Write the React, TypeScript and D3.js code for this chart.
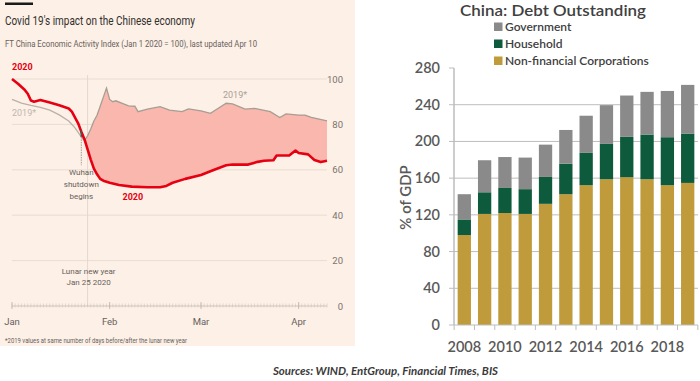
import React from "react";
import * as d3 from "d3";

// ---------- Left chart data (FT China Economic Activity Index) ----------
const redDays = [0, 2, 4, 5, 6, 7, 9, 12, 15, 18, 19, 21, 22, 23, 24, 25, 26, 27, 28, 29, 31, 34, 38, 43, 47, 49, 51, 55, 60, 64, 68, 70, 75, 78, 80, 83, 84, 88, 90, 91, 94, 96, 98, 100];
const redValues = [100, 97.8, 95.3, 93.5, 90.5, 90, 90.7, 89.6, 88.4, 87, 85.6, 80.5, 76.8, 73.5, 69, 64.5, 60.5, 58, 56, 55.2, 54.3, 53.3, 52.6, 52.3, 52.3, 52.9, 54.3, 56, 57.7, 59.9, 62, 62.3, 62.3, 63.5, 64, 64.2, 66.3, 66.3, 68.5, 67.4, 66.8, 64.3, 63.4, 64];
const greyDays = [0, 3, 6, 9, 12, 15, 18, 20, 22, 23, 24, 25, 26, 27, 28, 29, 30, 31, 32, 33, 35, 37, 39, 40, 43, 47, 50, 54, 56, 60, 63, 65, 68, 70, 74, 77, 82, 85, 87, 91, 93, 95, 100];
const greyValues = [91, 89.4, 88.4, 87.5, 86.3, 84.2, 81.5, 78.5, 74.5, 72.8, 75, 78, 81.5, 84, 88, 92, 96, 91, 90, 90.4, 89.3, 88.2, 88, 85.6, 86.7, 87.8, 86.3, 85.6, 86.8, 86, 84.9, 86.7, 89.3, 89, 86.7, 87.1, 85.6, 83, 84.6, 84.1, 84.1, 83.1, 81.6];
const shadeStartDay = 23;
const wuhanDay = 22;
const lunarDay = 24;
const leftYTicks = [0, 20, 40, 60, 80, 100];
const monthLabels = ["Jan", "Feb", "Mar", "Apr"];
const monthStarts = [0, 31, 60, 91];

// ---------- Right chart data (China debt, % of GDP) ----------
const years = [2008, 2009, 2010, 2011, 2012, 2013, 2014, 2015, 2016, 2017, 2018, 2019];
const nonFinancial = [98, 121, 122, 121, 132, 142.5, 152.3, 158.8, 161, 158.8, 152.3, 154.8];
const household = [17, 23.6, 27.3, 27, 29.3, 33.3, 35.2, 38.5, 44, 48.7, 52.3, 53.8];
const government = [27.5, 34.9, 33.7, 34.4, 35.2, 36.7, 40.5, 42.2, 45, 46.5, 50.4, 53];
const rightYTicks = [0, 40, 80, 120, 160, 200, 240, 280];
const yearLabels = [2008, 2010, 2012, 2014, 2016, 2018];
const seriesNames = ["Government", "Household", "Non-financial Corporations"];
const seriesKeys = ["gov", "hh", "nfc"];
const seriesColors: Record<string, string> = { gov: "#8a8a8a", hh: "#0e5a3c", nfc: "#bf9b3b" };

const dayDate = (d: number) => new Date(Date.UTC(2020, 0, 1 + d));

export default function App() {
  // Left scales
  const x = d3.scaleUtc().domain([dayDate(0), dayDate(100)]).range([12, 327]);
  const y = d3.scaleLinear().domain([0, 100]).range([306, 79]);
  const redPts: [number, number][] = redDays.map((d, i) => [x(dayDate(d)), y(redValues[i])]);
  const greyPts: [number, number][] = greyDays.map((d, i) => [x(dayDate(d)), y(greyValues[i])]);
  const line = d3.line();
  const greyBefore = greyPts.filter((_, i) => greyDays[i] <= shadeStartDay);
  const greyAfter = greyPts.filter((_, i) => greyDays[i] >= shadeStartDay);
  const redAfter = redPts.filter((_, i) => redDays[i] >= shadeStartDay);
  const shadePath = line([...greyAfter, ...redAfter.slice().reverse()]) + "Z";
  const allDays = d3.range(0, 101);
  const xw = x(dayDate(wuhanDay));
  const xl = x(dayDate(lunarDay));

  // Right scales
  const xb = d3.scaleBand<number>().domain(years).range([454, 698]).paddingInner(0.345).paddingOuter(0.18);
  const yb = d3.scaleLinear().domain([0, 280]).range([325, 68]);
  const rows = years.map((yr, i) => ({ year: yr, nfc: nonFinancial[i], hh: household[i], gov: government[i] }));
  const stack = d3.stack<any>().keys(["nfc", "hh", "gov"]);
  const layers = stack(rows);
  const step = xb.step();
  const tickXs = [...years.map((yr) => (xb(yr) as number) - (step * 0.345) / 2), (xb(2019) as number) + xb.bandwidth() + (step * 0.345) / 2];

  const ftFont = "'Liberation Sans Narrow', 'Roboto', 'Liberation Sans', sans-serif";
  const xlFont = "Lato, 'Open Sans', sans-serif";

  return (
    <svg width={700} height={381} style={{ position: "absolute", left: 0, top: 0, background: "#fff" }}>
      {/* Left panel */}
      <rect x={0} y={0} width={355} height={346} fill="#fdf0e6" />
      <rect x={5} y={2.5} width={28} height={2.5} fill="#1a1a1a" />
      <text x={5} y={25} fontFamily={ftFont} fontSize={13.5} fill="#33302e" textLength={190} lengthAdjust="spacingAndGlyphs">Covid 19's impact on the Chinese economy</text>
      <text x={5} y={47} fontFamily={ftFont} fontSize={9.5} fill="#66605c" textLength={252} lengthAdjust="spacingAndGlyphs">FT China Economic Activity Index (Jan 1 2020 = 100), last updated Apr 10</text>

      {/* gridlines */}
      {leftYTicks.filter((t) => t > 0).map((t) => (
        <line key={t} x1={12} x2={327} y1={y(t)} y2={y(t)} stroke="#e8ddd3" strokeWidth={1} />
      ))}
      {leftYTicks.map((t) => (
        <text key={"l" + t} x={343} y={y(t) + 3.5} textAnchor="end" fontFamily={ftFont} fontSize={9.5} fill="#7a736d">{t}</text>
      ))}
      {/* lunar new year line */}
      <line x1={xl} x2={xl} y1={75} y2={306} stroke="#e3d8ce" strokeWidth={1} />

      {/* x axis */}
      <line x1={12} x2={327} y1={y(0)} y2={y(0)} stroke="#cfc4ba" strokeWidth={1} />
      {allDays.map((d) => (
        <line key={"d" + d} x1={x(dayDate(d))} x2={x(dayDate(d))} y1={y(0) - 2.5} y2={y(0) + 1.5} stroke="#d2c7bd" strokeWidth={0.6} />
      ))}
      {monthStarts.map((d, i) => (
        <g key={"m" + d}>
          <line x1={x(dayDate(d))} x2={x(dayDate(d))} y1={y(0) - 4} y2={y(0) + 3} stroke="#bdb2a8" strokeWidth={0.8} />
          <text x={x(dayDate(d))} y={325} textAnchor="middle" fontFamily={ftFont} fontSize={9.5} fill="#66605c">{monthLabels[i]}</text>
        </g>
      ))}

      {/* shaded gap */}
      <path d={shadePath} fill="#f9b7ad" />
      <path d={line(greyBefore) as string} fill="none" stroke="#b9b1aa" strokeWidth={1.3} />
      <path d={line(greyAfter) as string} fill="none" stroke="#a69d95" strokeWidth={1.3} />
      <path d={line(redPts) as string} fill="none" stroke="#e60012" strokeWidth={2.6} strokeLinejoin="round" />

      {/* Wuhan marker */}
      <line x1={xw} x2={xw} y1={y(77.5)} y2={y(74.5)} stroke="#55504c" strokeWidth={1.5} />
      <line x1={xw} x2={xw} y1={y(74.5)} y2={y(62)} stroke="#9a918a" strokeWidth={0.9} strokeDasharray="1.5,1" />
      <text textAnchor="middle" fontFamily={ftFont} fontSize={8} fill="#66605c">
        <tspan x={xw} y={175}>Wuhan</tspan>
        <tspan x={xw} y={187}>shutdown</tspan>
        <tspan x={xw} y={199}>begins</tspan>
      </text>
      <text textAnchor="middle" fontFamily={ftFont} fontSize={8} fill="#66605c">
        <tspan x={xl + 1} y={274}>Lunar new year</tspan>
        <tspan x={xl + 1} y={285}>Jan 25 2020</tspan>
      </text>

      {/* series labels */}
      <text x={12} y={70} fontFamily={ftFont} fontSize={9} fontWeight="bold" fill="#e60012">2020</text>
      <text x={122.5} y={200} fontFamily={ftFont} fontSize={9} fontWeight="bold" fill="#e60012">2020</text>
      <text x={12} y={116} fontFamily={ftFont} fontSize={9} fill="#bfb7b0">2019*</text>
      <text x={223} y={98} fontFamily={ftFont} fontSize={9} fill="#a8a098">2019*</text>

      <text x={5} y={343} fontFamily={ftFont} fontSize={7} fill="#66605c" textLength={182} lengthAdjust="spacingAndGlyphs">*2019 values at same number of days before/after the lunar new year</text>

      {/* Right chart */}
      <text x={460} y={15.5} fontFamily={xlFont} fontSize={16} fontWeight={600} fill="#404040" textLength={186} lengthAdjust="spacingAndGlyphs">China: Debt Outstanding</text>
      {seriesNames.map((n, i) => (
        <g key={n}>
          <rect x={494} y={22.5 + i * 17} width={8.5} height={8.5} fill={seriesColors[seriesKeys[i]]} />
          <text x={505} y={31 + i * 17} fontFamily={xlFont} fontSize={12} fontWeight={600} fill="#404040">{n}</text>
        </g>
      ))}

      {rightYTicks.filter((t) => t > 0 && t < 280).map((t) => (
        <line key={"g" + t} x1={454} x2={698} y1={yb(t)} y2={yb(t)} stroke="#bdbdbd" strokeWidth={1} />
      ))}
      {rightYTicks.map((t) => (
        <g key={"r" + t}>
          <line x1={449} x2={454} y1={yb(t)} y2={yb(t)} stroke="#bdbdbd" strokeWidth={1} />
          <text x={440} y={yb(t) + 5} textAnchor="end" fontFamily={xlFont} fontSize={14.5} fontWeight={600} fill="#595959">{t}</text>
        </g>
      ))}

      {layers.map((layer) => (
        <g key={layer.key} fill={seriesColors[layer.key as string]}>
          {layer.map((d, i) => (
            <rect key={i} x={xb(years[i])} width={xb.bandwidth()} y={yb(d[1])} height={yb(d[0]) - yb(d[1])} />
          ))}
        </g>
      ))}

      <line x1={454} x2={454} y1={68} y2={325} stroke="#bdbdbd" strokeWidth={1.5} />
      <line x1={454} x2={698} y1={325} y2={325} stroke="#bdbdbd" strokeWidth={1} />
      {tickXs.map((tx, i) => (
        <line key={"t" + i} x1={tx} x2={tx} y1={325} y2={330} stroke="#bdbdbd" strokeWidth={1} />
      ))}
      {yearLabels.map((yr) => (
        <text key={yr} x={(xb(yr) as number) + xb.bandwidth() / 2} y={352} textAnchor="middle" fontFamily={xlFont} fontSize={14.5} fontWeight={600} fill="#595959">{yr}</text>
      ))}
      <text transform={`translate(411,197.5) rotate(-90)`} textAnchor="middle" fontFamily={xlFont} fontSize={15} fontWeight={600} fill="#595959">% of GDP</text>

      <text x={273} y={375} fontFamily={xlFont} fontSize={12} fontWeight="bold" fontStyle="italic" fill="#3a3a3a" textLength={225} lengthAdjust="spacingAndGlyphs">Sources: WIND, EntGroup, Financial Times, BIS</text>
    </svg>
  );
}
